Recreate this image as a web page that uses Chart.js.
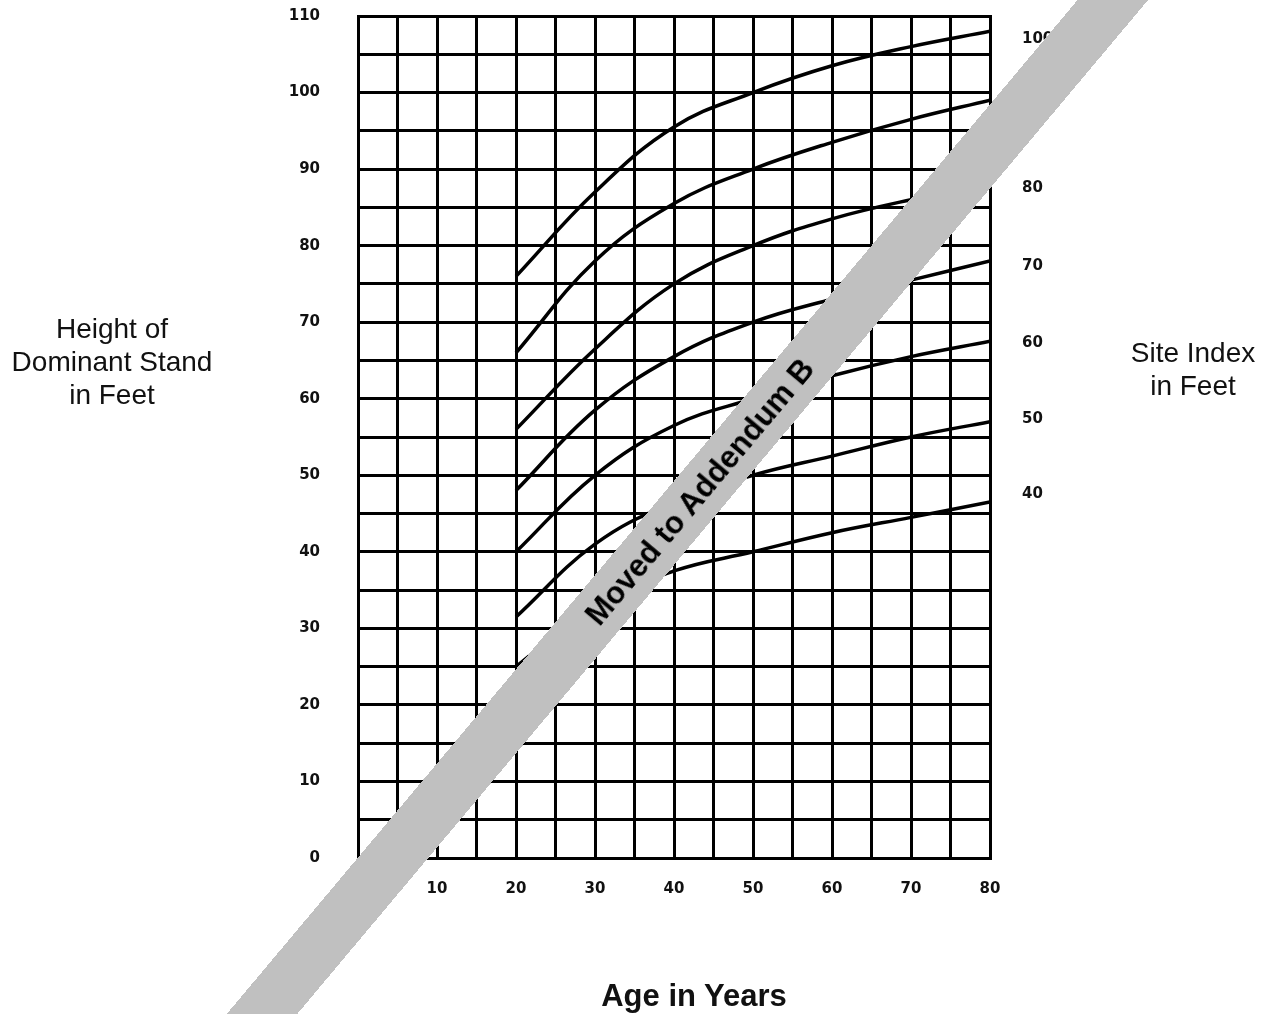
<!DOCTYPE html>
<html>
<head>
<meta charset="utf-8">
<script src="https://cdn.jsdelivr.net/npm/chart.js@4.4.0/dist/chart.umd.min.js"></script>
<style>
  html, body { margin: 0; padding: 0; background: #fff; }
  body { width: 1261px; height: 1014px; position: relative; overflow: hidden; font-family: "Liberation Sans", Arial, sans-serif; }
  #grafico { position: absolute; left: 0; top: 0; }
  .titulo { position: absolute; color: #111; text-align: center; font-size: 28px; line-height: 33px; }
  #tituloIzq { left: 0; width: 224px; top: 312px; }
  #tituloDer { left: 1103px; width: 180px; top: 336px; }
  #tituloX { left: 494px; width: 400px; top: 979px; font-weight: bold; font-size: 31px; }
  #banda {
    position: absolute; left: 700px; top: 492px; width: 1700px; height: 54px;
    background: #c0c0c0; transform: translate(-50%, -50%) rotate(-50deg);
    text-align: center; line-height: 54px; font-weight: bold; font-size: 31px; color: #000;
  }
</style>
</head>
<body>
<canvas id="grafico" width="1261" height="1014"></canvas>
<div class="titulo" id="tituloIzq">Height of<br>Dominant Stand<br>in Feet</div>
<div class="titulo" id="tituloDer">Site Index<br>in Feet</div>
<div class="titulo" id="tituloX">Age in Years</div>
<div id="banda">Moved to Addendum B</div>
<script>
// Edades (años) donde se leyeron las curvas
const edades = [20, 30, 40, 50, 60, 70, 80];

// Altura dominante (pies) por índice de sitio
const si100 = [76, 87, 95.5, 100, 103.5, 106, 108];
const si90 = [66, 78, 85.5, 90, 93.5, 96.5, 99];
const si80 = [56, 66.5, 75, 80, 83.5, 86, 88];
const si70 = [48, 58.5, 65.5, 70, 73, 75.5, 78];
const si60 = [40, 50, 56.5, 60, 63, 65.5, 67.5];
const si50 = [31.5, 41, 46.5, 50, 52.5, 55, 57];
const si40 = [25, 33, 37.5, 40, 42.5, 44.5, 46.5];

// Etiquetas del eje derecho y la altura donde aparecen
const etiquetasSitio = ['100', '90', '80', '70', '60', '50', '40'];
const alturasSitio = [107, 97.5, 87.5, 77.3, 67.3, 57.3, 47.5];

const curvas = [si100, si90, si80, si70, si60, si50, si40];

const fuenteTicks = { family: "'DejaVu Sans', sans-serif", size: 15, weight: 'bold' };

// Ancho fijo del eje y sin relleno vertical extra (para fijar el área del gráfico)
const fijarEje = (ancho) => (s) => {
    s.width = ancho;
    s.paddingTop = 0;
    s.paddingBottom = 0;
};

const datasets = curvas.map((serie, i) => ({
    label: 'SI ' + etiquetasSitio[i],
    data: serie.map((h, j) => ({ x: edades[j], y: h })),
    borderColor: '#000',
    borderWidth: 3.5,
    pointRadius: 0,
    tension: 0.4,
    fill: false,
    yAxisID: 'y',
}));

const ctx = document.getElementById('grafico').getContext('2d');
new Chart(ctx, {
    type: 'line',
    data: { datasets: datasets },
    options: {
        responsive: false,
        animation: false,
        layout: { padding: { top: 16, left: 0, right: 0, bottom: 0 } },
        plugins: { legend: { display: false }, tooltip: { enabled: false } },
        scales: {
            x: {
                type: 'linear',
                min: 0,
                max: 80,
                afterFit: (s) => {
                    s.height = 156;
                    s.paddingLeft = 0;
                    s.paddingRight = 0;
                },
                grid: { color: '#000', lineWidth: 3, drawTicks: false },
                border: { color: '#000', width: 3 },
                ticks: {
                    stepSize: 5,
                    autoSkip: false,
                    maxRotation: 0,
                    padding: 22,
                    color: '#111',
                    font: fuenteTicks,
                    callback: (v) => (v % 10 === 0 && v > 0 ? v : ''),
                },
            },
            y: {
                type: 'linear',
                position: 'left',
                min: 0,
                max: 110,
                afterFit: fijarEje(358),
                grid: { color: '#000', lineWidth: 3, drawTicks: false },
                border: { color: '#000', width: 3 },
                ticks: {
                    stepSize: 5,
                    autoSkip: false,
                    padding: 38,
                    color: '#111',
                    font: fuenteTicks,
                    callback: (v) => (v % 10 === 0 ? v : ''),
                },
            },
            y2: {
                type: 'linear',
                position: 'right',
                min: 0,
                max: 110,
                afterFit: fijarEje(271),
                afterBuildTicks: (s) => { s.ticks = alturasSitio.map((v) => ({ value: v })); },
                grid: { display: false, drawTicks: false },
                border: { display: true, color: '#000', width: 3 },
                ticks: {
                    autoSkip: false,
                    padding: 32,
                    color: '#111',
                    font: fuenteTicks,
                    callback: (v, i) => etiquetasSitio[i],
                },
            },
        },
    },
});
</script>
</body>
</html>
